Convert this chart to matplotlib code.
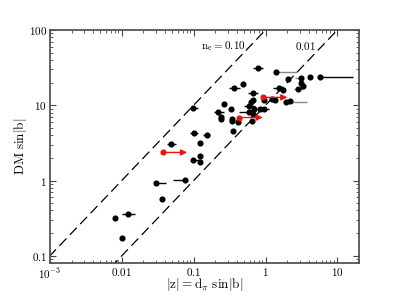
import numpy as np
import matplotlib
matplotlib.use('Agg')
import matplotlib.pyplot as plt
from matplotlib.ticker import FixedLocator, FixedFormatter, LogLocator, NullFormatter

plt.rcParams['mathtext.fontset'] = 'cm'
plt.rcParams['font.family'] = 'serif'
plt.rcParams['font.serif'] = ['DejaVu Serif']

# |z| (kpc) and DM sin|b| for the black points
z = [0.79, 1.41, 2.04, 3.10, 4.18, 5.75, 3.16, 3.37, 2.87, 0.367,
     0.49, 1.54, 1.74, 0.676, 1.22, 0.96, 1.37, 1.91, 2.20, 0.676,
     0.628, 0.266, 0.33, 0.22, 0.594, 0.69, 0.838, 0.96, 0.594, 0.676,
     0.237, 0.237, 0.344, 0.344, 0.418, 0.642, 0.349, 0.151, 0.122, 0.0966,
     0.0997, 0.048, 0.123, 0.0975, 0.123, 0.0297, 0.076, 0.0357, 0.0121, 0.00804,
     0.0102]
dm = [31.1, 27.8, 22.2, 22.9, 23.4, 23.4, 19.8, 17.9, 16.3, 16.7,
      18.9, 17.0, 15.7, 14.6, 12.1, 11.9, 11.9, 11.1, 11.4, 11.7,
      10.9, 10.3, 9.04, 8.14, 9.70, 8.85, 8.77, 8.77, 8.14, 7.74,
      6.98, 6.50, 6.65, 6.18, 5.98, 6.18, 4.50, 3.98, 3.14, 9.32,
      4.32, 3.09, 2.11, 1.89, 1.75, 0.94, 1.01, 0.563, 0.36, 0.314,
      0.17]
z_lo = [0.12, 0.0, 0.0, 0.52, 0.0, 0.0, 0.0, 0.0, 0.35, 0.06,
        0.0, 0.28, 0.0, 0.11, 0.0, 0.0, 0.0, 0.0, 0.0, 0.0,
        0.0, 0.0, 0.0, 0.03, 0.09, 0.0, 0.0, 0.0, 0.16, 0.0,
        0.0, 0.0, 0.0, 0.0, 0.0, 0.0, 0.0, 0.015, 0.0, 0.0,
        0.012, 0.006, 0.0, 0.0, 0.0, 0.0, 0.024, 0.0, 0.002, 0.0,
        0.0]
z_hi = [0.14, 1.31, 0.0, 0.0, 0.0, 10.9, 0.0, 0.0, 0.42, 0.07,
        0.0, 0.34, 0.0, 0.12, 0.0, 0.0, 0.0, 1.85, 0.0, 0.0,
        0.0, 0.0, 0.0, 0.04, 0.11, 0.0, 0.29, 0.0, 0.0, 0.0,
        0.0, 0.0, 0.0, 0.0, 0.0, 0.0, 0.0, 0.02, 0.0, 0.02,
        0.015, 0.008, 0.0, 0.025, 0.0, 0.011, 0.0, 0.0, 0.003, 0.0,
        0.0]
grey_bar = [1, 3, 17, 8]

# red points: lower limits on |z|
z_red = [0.923, 0.431, 0.0376]
dm_red = [12.7, 6.86, 2.36]
z_red_end = [2.01, 0.914, 0.081]

# constant density lines, DM sin|b| = n_e * 1000 * |z|
ne_vals = [0.10, 0.01]

fig = plt.figure(figsize=(3.99, 2.99), dpi=100)
ax = fig.add_axes([0.125, 0.12, 0.775, 0.78])

zline = np.array([1e-4, 100.0])
for ne in ne_vals:
    ax.plot(zline, ne * 1000 * zline, color='black', lw=0.9,
            dashes=(8, 4))

z = np.array(z)
dm = np.array(dm)
z_lo = np.array(z_lo)
z_hi = np.array(z_hi)
cols = ['#888888' if i in grey_bar else 'black' for i in range(len(z))]
for i in range(len(z)):
    if z_lo[i] > 0 or z_hi[i] > 0:
        ax.errorbar(z[i], dm[i], xerr=[[z_lo[i]], [z_hi[i]]], fmt='none',
                    ecolor=cols[i], elinewidth=1.0, capsize=0)
ax.plot(z, dm, 'o', color='black', ms=3.4, zorder=3)

for i in range(len(z_red)):
    ax.annotate('', xy=(z_red_end[i], dm_red[i]), xytext=(z_red[i], dm_red[i]),
                arrowprops=dict(arrowstyle='-|>', color='#e8140f', lw=1.0,
                                mutation_scale=9, shrinkA=0, shrinkB=0))
ax.plot(z_red, dm_red, 'o', color='#e8140f', ms=3.4, zorder=4)

ax.text(0.255, 61, r'$\mathrm{n_e = 0.10}$', fontsize=8, ha='center', va='center')
ax.text(3.56, 61, r'$\mathrm{0.01}$', fontsize=8, ha='center', va='center')

ax.set_xscale('log')
ax.set_yscale('log')
ax.set_xlim(1e-3, 20)
ax.set_ylim(0.08, 100)

xt = [1e-3, 1e-2, 1e-1, 1, 10]
xl = [r'$10^{-3}$', r'$0.01$', r'$0.1$', r'$1$', r'$10$']
yt = [0.1, 1, 10, 100]
yl = [r'$0.1$', r'$1$', r'$10$', r'$100$']
ax.xaxis.set_major_locator(FixedLocator(xt))
ax.xaxis.set_major_formatter(FixedFormatter(xl))
ax.yaxis.set_major_locator(FixedLocator(yt))
ax.yaxis.set_major_formatter(FixedFormatter(yl))
ax.xaxis.set_minor_locator(LogLocator(base=10, subs=np.arange(2, 10), numticks=20))
ax.yaxis.set_minor_locator(LogLocator(base=10, subs=np.arange(2, 10), numticks=20))
ax.xaxis.set_minor_formatter(NullFormatter())
ax.yaxis.set_minor_formatter(NullFormatter())

ax.tick_params(which='both', direction='in', top=True, right=True,
               labelsize=8, color='#444444', pad=2)
ax.tick_params(which='major', length=4, width=0.8)
ax.tick_params(which='minor', length=2, width=0.6)
for s in ax.spines.values():
    s.set_linewidth(1.3)
    s.set_color('#555555')

ax.set_xlabel(r'$\mathrm{|z| = d_\pi\ sin|b|}$', fontsize=9.5, labelpad=-3)
ax.set_ylabel(r'$\mathrm{DM\ sin|b|}$', fontsize=9.5, labelpad=0)

fig.savefig('out.png', dpi=100)
